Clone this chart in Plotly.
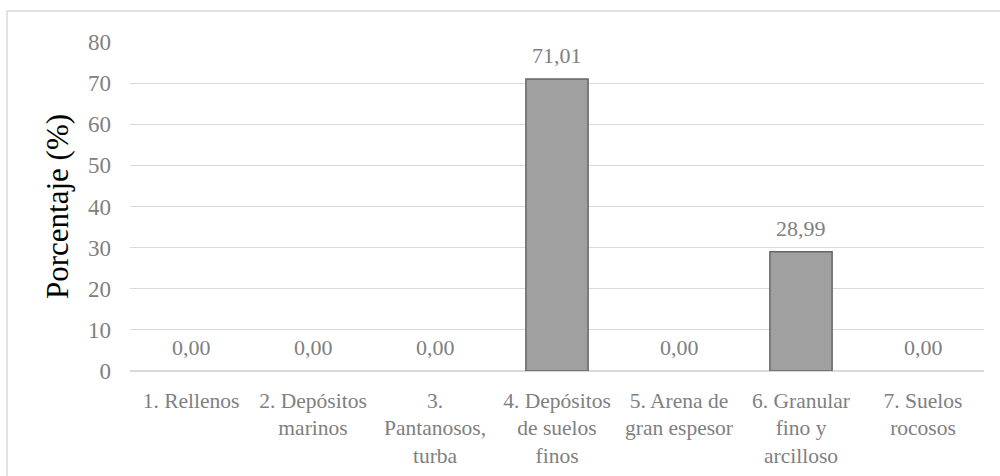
import plotly.graph_objects as go

categories = [
    "1. Rellenos",
    "2. Depósitos<br>marinos",
    "3.<br>Pantanosos,<br>turba",
    "4. Depósitos<br>de suelos<br>finos",
    "5. Arena de<br>gran espesor",
    "6. Granular<br>fino y<br>arcilloso",
    "7. Suelos<br>rocosos",
]
values = [0.00, 0.00, 0.00, 71.01, 0.00, 28.99, 0.00]
y_ticks = [0, 10, 20, 30, 40, 50, 60, 70, 80]

FONT = "Liberation Serif"
GREY = "#808080"

line_widths = [1.5 if v > 0 else 0 for v in values]

fig = go.Figure()
fig.add_trace(go.Bar(
    x=categories,
    y=values,
    marker=dict(color="#a0a0a0", line=dict(color="#666666", width=line_widths)),
    width=0.51,
    hoverinfo="skip",
))

annotations = [
    dict(x=c, y=v, xref="x", yref="y", text=f"{v:.2f}".replace(".", ","),
         showarrow=False, yanchor="bottom", yshift=9,
         font=dict(family=FONT, size=22, color=GREY))
    for c, v in zip(categories, values)
]

fig.update_layout(
    width=1000, height=476,
    margin=dict(l=130, r=16, t=42, b=105, autoexpand=False),
    paper_bgcolor="white", plot_bgcolor="white",
    separators=",.",
    showlegend=False,
    font=dict(family=FONT, color=GREY),
    annotations=annotations,
    xaxis=dict(
        tickfont=dict(family=FONT, size=21.5, color=GREY),
        showgrid=False, showline=False, ticks="",
        tickangle=0, ticklabelstandoff=14, automargin=False,
    ),
    yaxis=dict(
        range=[0, 80], tickvals=y_ticks,
        tickfont=dict(family=FONT, size=23, color=GREY),
        showgrid=True, gridcolor="#d9d9d9", gridwidth=1,
        zeroline=True, zerolinecolor="#d9d9d9", zerolinewidth=1.5,
        showline=False, ticks="", automargin=False,
        ticklabelstandoff=18,
        title=dict(text="Porcentaje (%)", font=dict(family=FONT, size=31, color="black"), standoff=10),
    ),
    shapes=[dict(
        type="path", xref="paper", yref="paper",
        path="M -0.1440,-0.4 L -0.1440,1.094 L 1.1,1.094",
        line=dict(color="#d9d9d9", width=1.5), layer="below",
    )],
)

fig.write_html(
    "out.html",
    config={"displayModeBar": False, "staticPlot": True},
    post_script="document.body.style.margin='0';document.body.style.overflow='hidden';",
)
